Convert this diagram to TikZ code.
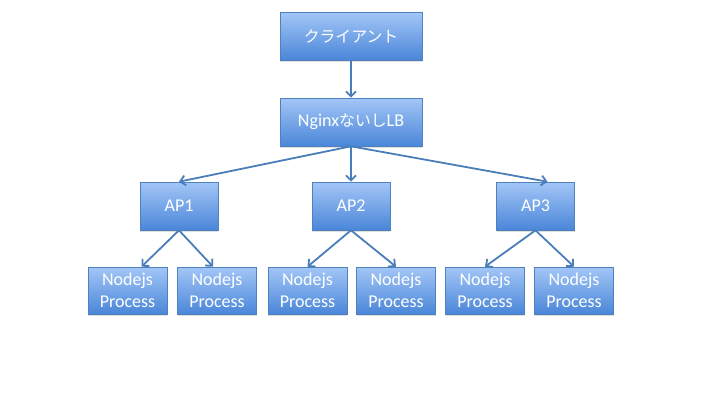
\documentclass[tikz,border=0pt]{standalone}
\usepackage{fontspec}
\setmainfont{Carlito}
\newfontfamily\jp[Scale=0.88]{Noto Sans CJK JP}
\usetikzlibrary{arrows.meta,shadows}
\definecolor{boxtop}{HTML}{A3C6F7}
\definecolor{boxbot}{HTML}{4A86D8}
\definecolor{boxline}{HTML}{4F81BD}
\definecolor{arrowc}{HTML}{4A7EBB}
\begin{document}
\begin{tikzpicture}[x=1pt,y=-1pt,
    box/.style={draw=boxline,line width=0.6pt,top color=boxtop,bottom color=boxbot,
      text=white,align=center,inner sep=0pt,
      font=\fontsize{18pt}{22pt}\selectfont,
      drop shadow={opacity=0.25,shadow xshift=0pt,shadow yshift=-2pt}},
    wide/.style={box,minimum width=142pt,minimum height=48pt},
    ap/.style={box,minimum width=78pt,minimum height=48pt},
    proc/.style={box,minimum width=79pt,minimum height=47pt},
    link/.style={draw=arrowc,line width=1.8pt,-{Straight Barb[length=5pt,width=10pt]}}]
      \useasboundingbox (0,0) rectangle (720,400);
      \node[wide] (client) at (351,36) {\jp クライアント};
      \node[wide] (lb) at (351,122) {Nginx{\jp ないし}LB};
      \node[ap] (ap1) at (179,206) {AP1};
      \node[ap] (ap2) at (351,206) {AP2};
      \node[ap] (ap3) at (535.5,206) {AP3};
      \node[proc] (p11) at (127.5,290.5) {Nodejs\\Process};
      \node[proc] (p12) at (217,290.5) {Nodejs\\Process};
      \node[proc] (p21) at (307.5,290.5) {Nodejs\\Process};
      \node[proc] (p22) at (396,290.5) {Nodejs\\Process};
      \node[proc] (p31) at (485,290.5) {Nodejs\\Process};
      \node[proc] (p32) at (574,290.5) {Nodejs\\Process};
      \draw[link] (client) -- (lb);
      \draw[link] (lb.south) -- (ap1.north);
      \draw[link] (lb.south) -- (ap2.north);
      \draw[link] (lb.south) -- ([xshift=12pt]ap3.north);
      \draw[link] (ap1.south) -- ([xshift=14pt]p11.north);
      \draw[link] (ap1.south) -- ([xshift=-4pt]p12.north);
      \draw[link] (ap2.south) -- (p21.north);
      \draw[link] (ap2.south) -- (p22.north);
      \draw[link] (ap3.south) -- (p31.north);
      \draw[link] (ap3.south) -- (p32.north);
\end{tikzpicture}
\end{document}
